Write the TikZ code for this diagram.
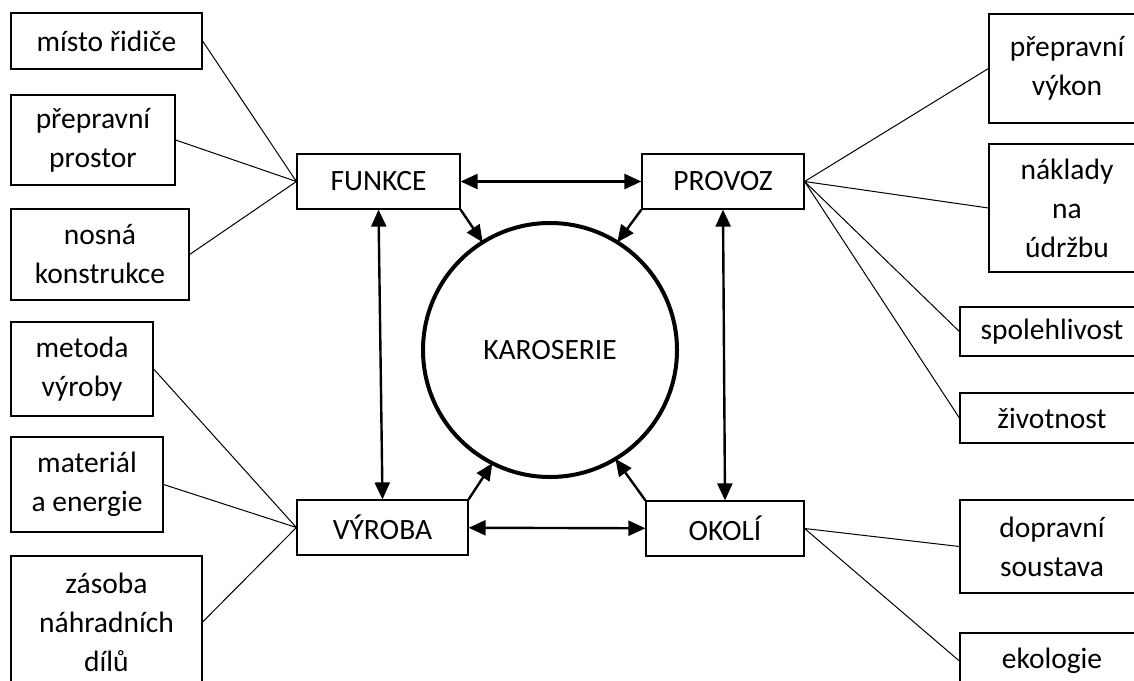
\documentclass[tikz,border=0pt]{standalone}
\usepackage{fontspec}
\setmainfont{Carlito}
\usetikzlibrary{arrows.meta}
\tikzset{every node/.style={font=\fontsize{29.5}{39}\selectfont},
  partbox/.style={draw,line width=1.2pt,inner sep=0pt,align=center},
  link/.style={line width=1pt},
  flow/.style={line width=2.4pt,-{Triangle[length=17pt,width=15pt]}},
  flowboth/.style={line width=2.4pt,{Triangle[length=17pt,width=15pt]}-{Triangle[length=17pt,width=15pt]}}}
\newcommand{\partbox}[5]{\node[partbox,minimum width=#3pt,minimum height=#4pt] at (#2) (#1) {#5}}

\begin{document}
\begin{tikzpicture}[x=1pt,y=-1pt]
  \useasboundingbox (0,0) rectangle (1134,680);
  \clip (0,0) rectangle (1134,680);

  \node[circle,draw,line width=4pt,minimum size=254pt,inner sep=0pt,outer sep=0pt] at (550,350) (karoserie) {KAROSERIE};

  \partbox{funkce}{378.5,181.5}{163}{55}{FUNKCE};
  \partbox{provoz}{723,181.5}{162}{55}{PROVOZ};
  \partbox{vyroba}{382.5,527.5}{171}{55}{VÝROBA};
  \partbox{okoli}{725,528.5}{158}{55}{OKOLÍ};

  \partbox{misto}{106.5,41}{191}{56}{místo řidiče};
  \partbox{prostor}{93,140}{164}{90}{přepravní\\prostor};
  \partbox{nosna}{100,254.5}{178}{91}{nosná\\konstrukce};
  \partbox{metoda}{82,369}{142}{94}{metoda\\výroby};
  \partbox{material}{87,484.5}{152}{95}{materiál\\a energie};
  \partbox{zasoba}{106.5,622}{191}{132}{zásoba\\náhradních\\dílů};

  \partbox{vykon}{1067,68.5}{156}{109}{přepravní\\výkon};
  \partbox{naklady}{1067,208}{156}{128}{náklady\\na\\údržbu};
  \partbox{spolehlivost}{1052,331.5}{184}{49}{spolehlivost};
  \partbox{zivotnost}{1052,418}{184}{50}{životnost};
  \partbox{dopravni}{1052,546.5}{184}{93}{dopravní\\soustava};
  \partbox{ekologie}{1052,661}{184}{56}{ekologie};

  \draw[link] (misto.east) -- (funkce.west)
        (prostor.east) -- (funkce.west)
        (nosna.east) -- (funkce.west)
        (metoda.east) -- (vyroba.west)
        (material.east) -- (vyroba.west)
        (zasoba.east) -- (vyroba.west)
        (provoz.east) -- (vykon.west)
        (provoz.east) -- (naklady.west)
        (provoz.east) -- (spolehlivost.west)
        (provoz.east) -- (zivotnost.west)
        (okoli.east) -- (dopravni.west)
        (okoli.east) -- (ekologie.west);

  \draw[flowboth] (funkce) -- (provoz);
  \draw[flowboth] (vyroba) -- (okoli);
  \draw[flowboth] (funkce.south) -- (vyroba.north);
  \draw[flowboth] (provoz.south) -- (okoli.north);
  \draw[flow] (funkce.south east) -- (karoserie.122);
  \draw[flow] (provoz.south west) -- (karoserie.58);
  \draw[flow] (vyroba.north east) -- (karoserie.243);
  \draw[flow] (okoli.north west) -- (karoserie.301);
\end{tikzpicture}
\end{document}
